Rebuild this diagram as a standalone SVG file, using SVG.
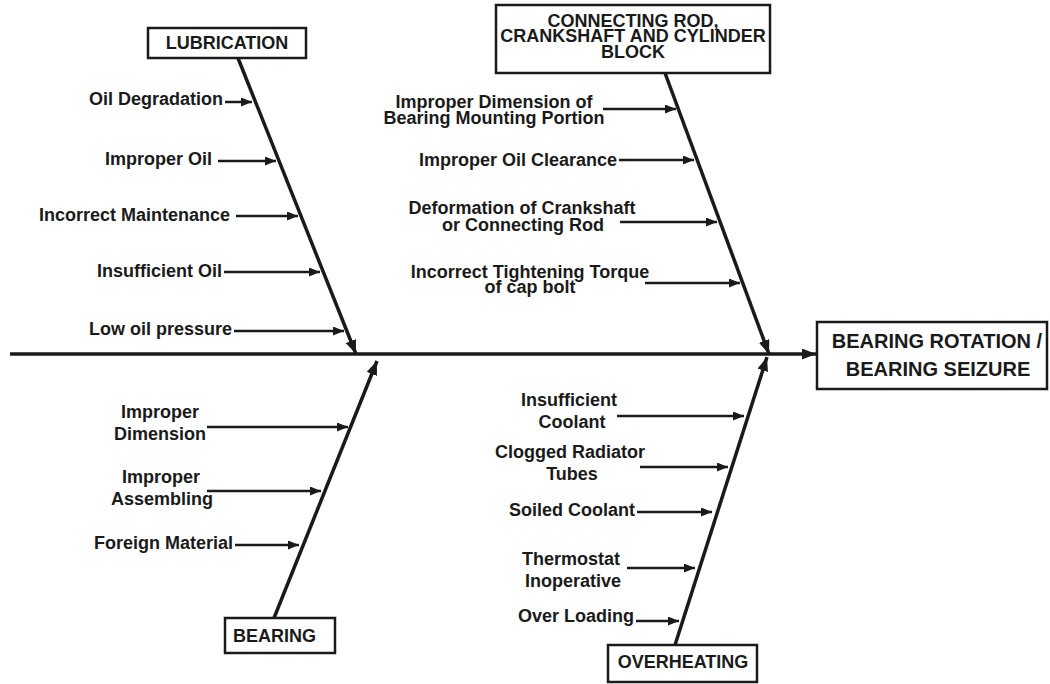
<svg xmlns="http://www.w3.org/2000/svg" width="1050" height="684" viewBox="0 0 1050 684">
<defs>
<style>
.t{font-family:"Liberation Sans",Arial,Helvetica,sans-serif;font-weight:bold;font-size:18px;fill:#1a1a1a}
.c{text-anchor:middle}
.e{text-anchor:end}
.box{fill:#fff;stroke:#1a1a1a;stroke-width:2.5}
.sub{stroke:#1a1a1a;stroke-width:2.5;fill:none;marker-end:url(#ah)}
.bone{stroke:#1a1a1a;stroke-width:3.5;fill:none;marker-end:url(#bh)}
</style>
<marker id="ah" markerUnits="userSpaceOnUse" markerWidth="11" markerHeight="9" refX="11" refY="4.5" orient="auto"><path d="M0,0 L11,4.5 L0,9 z" fill="#1a1a1a"/></marker>
<marker id="bh" markerUnits="userSpaceOnUse" markerWidth="14" markerHeight="11" refX="14" refY="5.5" orient="auto"><path d="M0,0 L14,5.5 L0,11 z" fill="#1a1a1a"/></marker>
</defs>
<rect width="1050" height="684" fill="#fff"/>
<g id="connectors">
<line class="bone" x1="10" y1="354" x2="816" y2="354"/>
<line class="bone" x1="238" y1="58" x2="356" y2="354"/>
<line class="bone" x1="665" y1="73" x2="769" y2="354"/>
<line class="bone" x1="274" y1="618" x2="377" y2="361"/>
<line class="bone" x1="675" y1="645" x2="767" y2="357"/>
<line class="sub" x1="225" y1="102" x2="252" y2="102"/>
<line class="sub" x1="218" y1="161" x2="276" y2="161"/>
<line class="sub" x1="236" y1="216" x2="298" y2="216"/>
<line class="sub" x1="224" y1="272" x2="320" y2="272"/>
<line class="sub" x1="234" y1="331" x2="344" y2="331"/>
<line class="sub" x1="603" y1="109" x2="676" y2="109"/>
<line class="sub" x1="619" y1="160" x2="694" y2="160"/>
<line class="sub" x1="620" y1="222" x2="717" y2="222"/>
<line class="sub" x1="645" y1="283" x2="740" y2="283"/>
<line class="sub" x1="207" y1="427" x2="348" y2="427"/>
<line class="sub" x1="207" y1="491" x2="321" y2="491"/>
<line class="sub" x1="235" y1="545" x2="299" y2="545"/>
<line class="sub" x1="617" y1="416" x2="744" y2="416"/>
<line class="sub" x1="640" y1="467" x2="728" y2="467"/>
<line class="sub" x1="637" y1="512" x2="712" y2="512"/>
<line class="sub" x1="627" y1="568" x2="695" y2="568"/>
<line class="sub" x1="636" y1="621" x2="679" y2="621"/>
</g>
<g id="effect">
<rect class="box" x="817" y="322" width="230" height="67" stroke-width="3"/>
<text class="t c" x="937" y="348" font-size="20" style="font-size:20px">BEARING ROTATION /</text>
<text class="t c" x="938" y="376" style="font-size:20px">BEARING SEIZURE</text>
</g>
<g id="lubrication">
<rect class="box" x="148" y="28" width="158" height="30"/>
<text class="t c" x="227" y="49">LUBRICATION</text>
</g>
<g id="connecting-rod">
<rect class="box" x="496" y="5" width="274" height="68"/>
<text class="t c" x="633" y="27">CONNECTING ROD,</text>
<text class="t c" x="633" y="42">CRANKSHAFT AND CYLINDER</text>
<text class="t c" x="633" y="58">BLOCK</text>
</g>
<g id="bearing">
<rect class="box" x="225" y="618" width="110" height="35"/>
<text class="t" x="233" y="642">BEARING</text>
</g>
<g id="overheating">
<rect class="box" x="608" y="645" width="149" height="37"/>
<text class="t c" x="683" y="668">OVERHEATING</text>
</g>
<g id="lub-causes">
<text class="t e" x="223" y="105">Oil Degradation</text>
<text class="t e" x="212" y="165">Improper Oil</text>
<text class="t e" x="230" y="221">Incorrect Maintenance</text>
<text class="t e" x="222" y="277">Insufficient Oil</text>
<text class="t e" x="232" y="335">Low oil pressure</text>
</g>
<g id="crank-causes">
<text class="t c" x="494" y="108">Improper Dimension of</text>
<text class="t c" x="494" y="124">Bearing Mounting Portion</text>
<text class="t e" x="617" y="166">Improper Oil Clearance</text>
<text class="t c" x="522" y="214">Deformation of Crankshaft</text>
<text class="t c" x="523" y="231">or Connecting Rod</text>
<text class="t c" x="530" y="278">Incorrect Tightening Torque</text>
<text class="t c" x="530" y="293">of cap bolt</text>
</g>
<g id="bearing-causes">
<text class="t c" x="160" y="418">Improper</text>
<text class="t c" x="160" y="440">Dimension</text>
<text class="t c" x="161" y="483">Improper</text>
<text class="t c" x="162" y="505">Assembling</text>
<text class="t e" x="233" y="549">Foreign Material</text>
</g>
<g id="overheat-causes">
<text class="t c" x="569" y="406">Insufficient</text>
<text class="t c" x="572" y="428">Coolant</text>
<text class="t c" x="570" y="458">Clogged Radiator</text>
<text class="t c" x="572" y="480">Tubes</text>
<text class="t e" x="635" y="516">Soiled Coolant</text>
<text class="t c" x="571" y="565">Thermostat</text>
<text class="t c" x="573" y="587">Inoperative</text>
<text class="t e" x="634" y="622">Over Loading</text>
</g>
</svg>
